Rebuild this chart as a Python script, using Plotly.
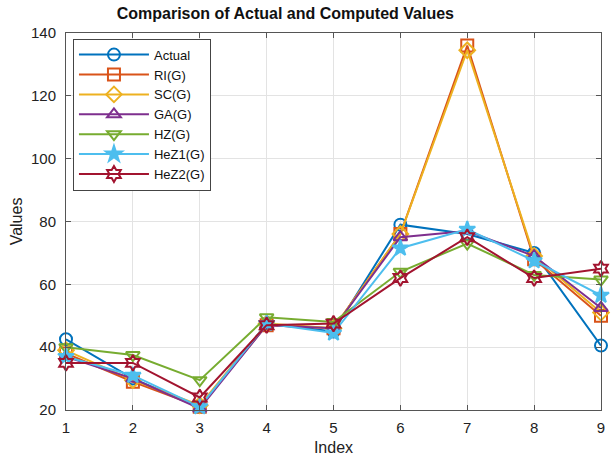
import plotly.graph_objects as go

index = [1, 2, 3, 4, 5, 6, 7, 8, 9]
actual = [42.5, 30, 21, 47.5, 45, 79, 76, 70, 40.5]
ri_g = [38, 29, 21, 47, 46, 76, 136, 68, 50]
sc_g = [39, 29.5, 21.5, 47.5, 46, 76, 134.5, 69, 51]
ga_g = [37, 30, 20.5, 47, 46, 75, 77, 69, 52.5]
hz_g = [40, 37.5, 29.5, 49.5, 48, 64, 73, 63, 61.5]
hez1_g = [37, 31, 21, 47.5, 44.5, 71.5, 77.5, 67.5, 56.5]
hez2_g = [35, 35, 24, 47, 47.5, 62, 75, 62, 65]

series = [
    ("Actual", actual, "#0072BD", "circle-open"),
    ("RI(G)", ri_g, "#D95319", "square-open"),
    ("SC(G)", sc_g, "#EDB120", "diamond-open"),
    ("GA(G)", ga_g, "#7E2F8E", "triangle-up-open"),
    ("HZ(G)", hz_g, "#77AC30", "triangle-down-open"),
    ("HeZ1(G)", hez1_g, "#4DBEEE", "star"),
    ("HeZ2(G)", hez2_g, "#A2142F", "hexagram-open"),
]

fig = go.Figure()
for name, vals, col, sym in series:
    fig.add_trace(go.Scatter(
        x=index, y=vals, name=name, mode="lines+markers",
        line=dict(color=col, width=2),
        marker=dict(symbol=sym, size=12, color=col, line=dict(color=col, width=2)),
        cliponaxis=False,
    ))

axis_common = dict(
    showline=True, linecolor="#555555", linewidth=1, mirror="ticks",
    ticks="inside", ticklen=5, tickcolor="#555555",
    showgrid=True, gridcolor="#e3e3e3", gridwidth=1, zeroline=False,
    tickfont=dict(family="Liberation Sans, Arial", size=15, color="#222222"),
)

fig.update_layout(
    width=613, height=461,
    margin=dict(l=66, r=8, t=33, b=48),
    paper_bgcolor="white", plot_bgcolor="white",
    title=dict(text="<b>Comparison of Actual and Computed Values</b>",
               xref="paper", x=0.41, xanchor="center", y=0.982, yanchor="top",
               font=dict(family="Liberation Sans, Arial", size=16, color="#111111")),
    xaxis=dict(range=[1, 9], tickvals=index, ticklabelstandoff=4,
               title=dict(text="Index", standoff=6,
               font=dict(family="Liberation Sans, Arial", size=16, color="#222222")), **axis_common),
    yaxis=dict(range=[20, 140], tickvals=[20, 40, 60, 80, 100, 120, 140], ticklabelstandoff=6,
               title=dict(text="Values", standoff=4,
               font=dict(family="Liberation Sans, Arial", size=16, color="#222222")), **axis_common),
    legend=dict(x=0.013, y=0.985, xanchor="left", yanchor="top",
                bgcolor="white", bordercolor="#444444", borderwidth=1,
                font=dict(family="Liberation Sans, Arial", size=13, color="#111111"),
                tracegroupgap=0, itemwidth=70),
    showlegend=True,
)

fig.write_html("out.html")
